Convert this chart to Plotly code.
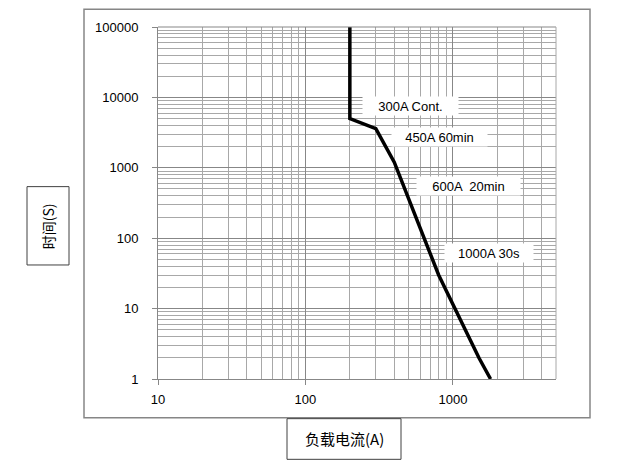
import math
import plotly.graph_objects as go

# ---- data ----
current_a = [200, 200, 300, 400, 800, 1500, 1800]
time_s = [100000, 5000, 3600, 1200, 30, 2, 1]

x_ticks = [10, 100, 1000]
x_tick_labels = ["10", "100", "1000"]
y_ticks = [1, 10, 100, 1000, 10000, 100000]
y_tick_labels = ["1", "10", "100", "1000", "10000", "100000"]

label_texts = ["300A Cont.", "450A 60min", "600A  20min", "1000A 30s"]
label_x = [513, 805, 1268, 1746]
label_y = [7530, 2760, 546, 62]
label_w = [93, 93, 101, 86]

x_title = "负载电流(A)"
y_title = "时间(S)"

# ---- layout geometry (page body has an 8px default margin) ----
OFF = 8
W, H = 623 - OFF, 468 - OFF
L, R, T, B = 158 - OFF, 556 - OFF, 24 - OFF, 379 - OFF
pw, ph = R - L, B - T


def px(x):
    return (x - OFF - L) / pw


def py(y):
    return (B - (y - OFF)) / ph


x_minor = [m * 10 ** k for k in (1, 2) for m in range(2, 10)] + [2000, 3000, 4000, 5000]
y_minor = [m * 10 ** k for k in range(0, 5) for m in range(2, 10)]

fig = go.Figure()
fig.add_trace(go.Scatter(
    x=current_a, y=time_s, mode="lines",
    line=dict(color="black", width=3.5),
    showlegend=False, hoverinfo="skip",
))

axis_font = dict(family="Liberation Sans, Arial, sans-serif", size=13, color="black")
major_grid = "#878787"
minor_grid = "#a8a8a8"

fig.update_xaxes(
    type="log", range=[1, 3.69897],
    tickvals=x_ticks, ticktext=x_tick_labels,
    ticks="outside", ticklen=5, tickcolor=major_grid,
    showgrid=True, gridcolor=major_grid, gridwidth=1,
    showline=True, linecolor=major_grid, linewidth=1,
    zeroline=False, tickfont=axis_font, ticklabelstandoff=3,
    minor=dict(tickvals=x_minor, showgrid=True, gridcolor=minor_grid, gridwidth=1, ticks=""),
)
fig.update_yaxes(
    type="log", range=[0, 5],
    tickvals=y_ticks, ticktext=y_tick_labels,
    ticks="outside", ticklen=5, tickcolor=major_grid,
    showgrid=True, gridcolor=major_grid, gridwidth=1,
    showline=True, linecolor=major_grid, linewidth=1,
    zeroline=False, tickfont=axis_font, ticklabelstandoff=11,
    minor=dict(tickvals=y_minor, showgrid=True, gridcolor=minor_grid, gridwidth=1, ticks=""),
)

shapes = [
    # outer chart border
    dict(type="rect", xref="paper", yref="paper",
         x0=px(84), x1=px(590), y0=py(418), y1=py(6),
         line=dict(color="#868686", width=1.5), fillcolor="rgba(0,0,0,0)", layer="below"),
    # top and right edges of the plot area
    dict(type="line", xref="paper", yref="paper", x0=0, x1=1, y0=1, y1=1,
         line=dict(color=major_grid, width=1)),
    dict(type="line", xref="paper", yref="paper", x0=1, x1=1, y0=0, y1=1,
         line=dict(color=minor_grid, width=1)),
    # y title box
    dict(type="rect", xref="paper", yref="paper",
         x0=px(27), x1=px(69), y0=py(264), y1=py(185),
         line=dict(color="#404040", width=1), fillcolor="white"),
    # x title box
    dict(type="rect", xref="paper", yref="paper",
         x0=px(287), x1=px(401), y0=py(460), y1=py(419),
         line=dict(color="#404040", width=1), fillcolor="white"),
]

cjk_font = dict(family="Noto Sans CJK SC, sans-serif", size=14, color="black")
annotations = [
    dict(text=y_title, xref="paper", yref="paper", x=px(48), y=py(225),
         showarrow=False, textangle=-90, font=cjk_font, xanchor="center", yanchor="middle"),
    dict(text=x_title, xref="paper", yref="paper", x=px(344), y=py(439.5),
         showarrow=False, font=dict(family="Noto Sans CJK SC, sans-serif", size=15, color="black"),
         xanchor="center", yanchor="middle"),
]
for t, lx, ly, w in zip(label_texts, label_x, label_y, label_w):
    annotations.append(dict(
        text=t, x=math.log10(lx), y=math.log10(ly), xref="x", yref="y",
        showarrow=False, bgcolor="white", width=w, height=16, borderpad=1,
        font=dict(family="Liberation Sans, Arial, sans-serif", size=13, color="black"),
        xanchor="center", yanchor="middle",
    ))

fig.update_layout(
    width=W, height=H,
    margin=dict(l=L, r=W - R, t=T, b=H - B, pad=0),
    paper_bgcolor="white", plot_bgcolor="white",
    shapes=shapes, annotations=annotations,
)

fig.write_html("out.html")
